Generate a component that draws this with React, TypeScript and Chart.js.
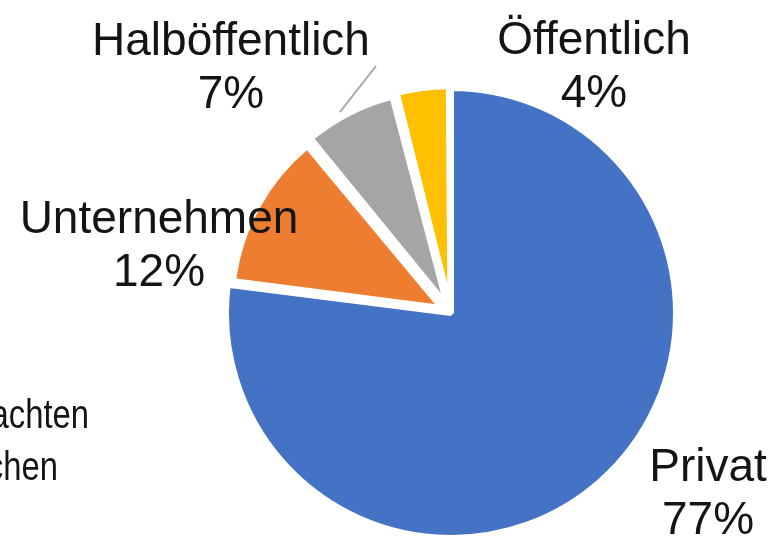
import React, { useEffect, useRef } from "react";
import { Chart, registerables } from "chart.js";

Chart.register(...registerables);

// ---- data ----
const CATEGORIES = ["Privat", "Unternehmen", "Halböffentlich", "Öffentlich"];
const SHARES = [77, 12, 7, 4];
const COLORS = ["#4472C4", "#ED7D31", "#A5A5A5", "#FFC000"];
const SIDE_TEXT = ["achten", "chen"];

// ---- layout ----
const FONT = '"Liberation Sans", Arial, sans-serif';
const W = 775;
const H = 539;
const PADDING = { left: 127, top: 87, right: 0, bottom: 0 };
const MAIN_RADIUS = 225;
const SMALL_RADIUS = 203;
const SMALL_OFFSET = 52;
const LABEL_POS: number[][] = [
  [257, 168],
  [-292, -80],
  [-220, -258],
  [143, -259],
];
const LINE_GAP = 53;
const LEADER = [
  [-75, -247],
  [-111, -201],
];
const SIDE_POS = [
  [89, 428],
  [58, 480],
];

const TRANSPARENT = "rgba(0,0,0,0)";

const labelPlugin = {
  id: "sliceLabels",
  afterDraw(chart: any) {
    const arc = chart.getDatasetMeta(0).data[0];
    if (!arc) return;
    const cx = arc.x;
    const cy = arc.y;
    const ctx = chart.ctx;
    ctx.save();
    ctx.strokeStyle = "#A6A6A6";
    ctx.lineWidth = 2;
    ctx.beginPath();
    ctx.moveTo(cx + LEADER[0][0], cy + LEADER[0][1]);
    ctx.lineTo(cx + LEADER[1][0], cy + LEADER[1][1]);
    ctx.stroke();
    ctx.font = `46px ${FONT}`;
    ctx.fillStyle = "#141414";
    ctx.textAlign = "center";
    ctx.textBaseline = "alphabetic";
    const total = SHARES.reduce((a, b) => a + b, 0);
    CATEGORIES.forEach((cat, i) => {
      const [dx, dy] = LABEL_POS[i];
      ctx.fillText(cat, cx + dx, cy + dy);
      ctx.fillText(
        Math.round((SHARES[i] / total) * 100) + "%",
        cx + dx,
        cy + dy + LINE_GAP
      );
    });
    ctx.restore();
  },
};

const sideTextPlugin = {
  id: "sideText",
  afterDraw(chart: any) {
    const ctx = chart.ctx;
    SIDE_TEXT.forEach((t, i) => {
      ctx.save();
      ctx.translate(SIDE_POS[i][0], SIDE_POS[i][1]);
      ctx.scale(0.8, 1);
      ctx.font = `41px ${FONT}`;
      ctx.fillStyle = "#141414";
      ctx.textAlign = "right";
      ctx.textBaseline = "alphabetic";
      ctx.fillText(t, 0, 0);
      ctx.restore();
    });
  },
};

export default function App() {
  const aRef = useRef<HTMLCanvasElement>(null);
  const bRef = useRef<HTMLCanvasElement>(null);

  useEffect(() => {
    const baseOptions: any = {
      responsive: false,
      animation: false,
      devicePixelRatio: 1,
      events: [],
      layout: { padding: PADDING },
      plugins: {
        legend: { display: false },
        tooltip: { enabled: false },
        title: { display: false },
      },
    };

    const chartA = new Chart(aRef.current as HTMLCanvasElement, {
      type: "pie",
      data: {
        labels: CATEGORIES,
        datasets: [
          {
            data: SHARES,
            backgroundColor: COLORS.map((c, i) => (i === 0 ? c : TRANSPARENT)),
            borderColor: "#ffffff",
            borderWidth: SHARES.map((_, i) => (i === 0 ? 6 : 0)),
            radius: MAIN_RADIUS,
          } as any,
        ],
      },
      options: baseOptions,
      plugins: [sideTextPlugin],
    });

    const chartB = new Chart(bRef.current as HTMLCanvasElement, {
      type: "pie",
      data: {
        labels: CATEGORIES,
        datasets: [
          {
            data: SHARES,
            backgroundColor: COLORS.map((c, i) => (i === 0 ? TRANSPARENT : c)),
            borderColor: "#ffffff",
            borderWidth: SHARES.map((_, i) => (i === 0 ? 0 : 4)),
            offset: SHARES.map((_, i) => (i === 0 ? 0 : SMALL_OFFSET)),
            radius: SMALL_RADIUS,
          } as any,
        ],
      },
      options: baseOptions,
      plugins: [labelPlugin],
    });

    return () => {
      chartA.destroy();
      chartB.destroy();
    };
  }, []);

  return (
    <div
      style={{
        position: "absolute",
        left: 0,
        top: 0,
        width: W,
        height: H,
        background: "#ffffff",
        overflow: "hidden",
      }}
    >
      <canvas
        ref={aRef}
        width={W}
        height={H}
        style={{ position: "absolute", left: 0, top: 0 }}
      />
      <canvas
        ref={bRef}
        width={W}
        height={H}
        style={{ position: "absolute", left: 0, top: 0 }}
      />
    </div>
  );
}
